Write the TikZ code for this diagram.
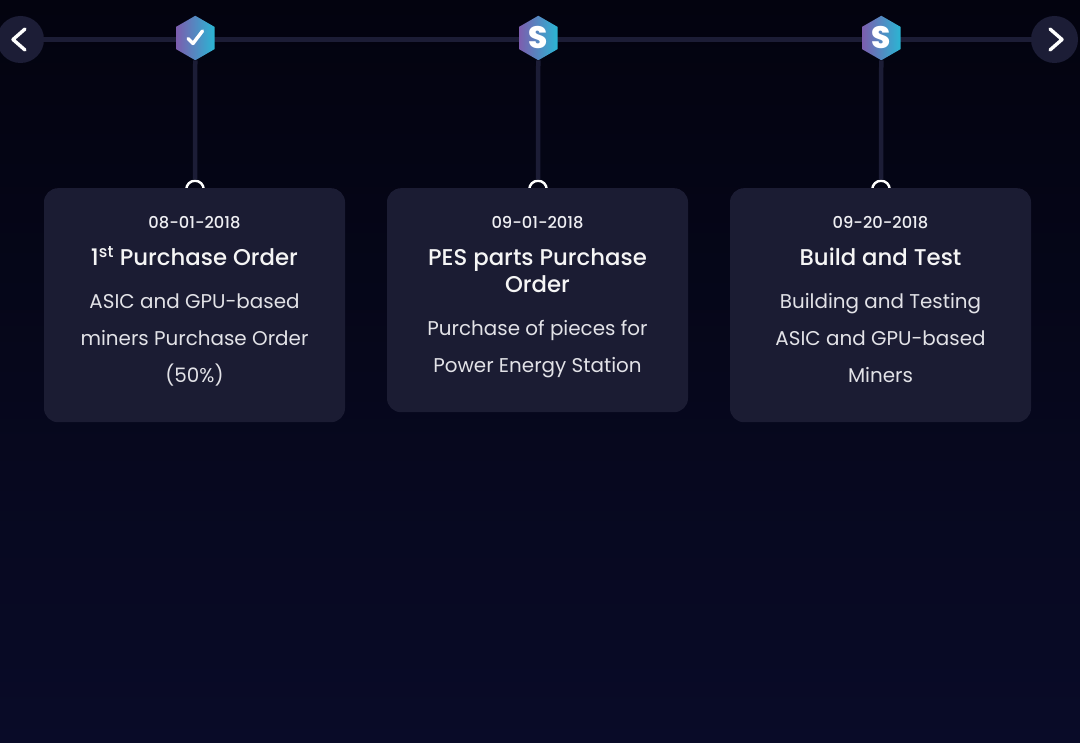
\documentclass[tikz,border=0pt]{standalone}
\usepackage{fontspec}
\setmainfont{Poppins}
\newfontfamily\poppinsmedium{Poppins Medium}
\newfontfamily\poppinsheavy{Poppins ExtraBold}
\usetikzlibrary{shapes.geometric}
\definecolor{railcolor}{HTML}{1C1D36}
\definecolor{cardcolor}{HTML}{1B1C33}
\definecolor{bgtop}{HTML}{03030F}
\definecolor{bgbottom}{HTML}{090B28}
\definecolor{hexleft}{HTML}{7C5DAE}
\definecolor{hexright}{HTML}{2AB6D4}
\definecolor{datecolor}{HTML}{EFEFF3}
\definecolor{bodycolor}{HTML}{E2E2E7}
\tikzset{
  railline/.style={draw=railcolor,line width=4.5pt},
  navbutton/.style={circle,fill=railcolor,minimum size=47pt,inner sep=0pt},
  chevronline/.style={draw=white,line width=3.4pt,line cap=round,line join=round},
  hexbadge/.style={regular polygon,regular polygon sides=6,shape border rotate=30,
    minimum size=44.5pt,inner sep=0pt,left color=hexleft,right color=hexright,
    text=white,font=\fontsize{31}{31}\selectfont\poppinsheavy},
  hookring/.style={circle,draw=white,line width=2.4pt,minimum size=17.5pt,inner sep=0pt},
  cardbox/.style={draw=none,fill=cardcolor,rounded corners=14pt,minimum width=301pt,
    inner sep=0pt,anchor=north},
  datetext/.style={text=datecolor,anchor=base,inner sep=0pt,
    font=\fontsize{16.3}{20}\selectfont\poppinsmedium},
  titletext/.style={text=white!96!black,align=center,inner sep=0pt,
    font=\fontsize{22.8}{27}\selectfont\poppinsmedium},
  bodytext/.style={text=bodycolor,align=center,inner sep=0pt,font=\fontsize{19.9}{37}\selectfont},
}
\begin{document}
\begin{tikzpicture}[x=1pt,y=-1pt]
  \useasboundingbox (0,0) rectangle (1080,743);
  \shade[top color=bgtop,bottom color=bgbottom] (0,0) rectangle (1080,743);

  % rail
  \node[navbutton] (prev) at (20.5,39.5) {};
  \node[navbutton] (next) at (1054.5,39.5) {};
  \draw[railline] (prev) -- (next);
  \node[hookring] (ringa) at (195,189.5) {};
  \node[hookring] (ringb) at (538,189.5) {};
  \node[hookring] (ringc) at (881,189.5) {};
  \node[hexbadge] (hexa) at (195.3,38) {};
  \node[hexbadge] (hexb) at (538.3,38) {\raisebox{-1pt}{S}};
  \node[hexbadge] (hexc) at (881.3,38) {\raisebox{-1pt}{S}};
  \draw[railline] (hexa) -- (ringa);
  \draw[railline] (hexb) -- (ringb);
  \draw[railline] (hexc) -- (ringc);

  % cards
  \node[cardbox,minimum height=234pt] (carda) at (194.5,188) {};
  \node[cardbox,minimum height=224pt] (cardb) at (537.5,188) {};
  \node[cardbox,minimum height=234pt] (cardc) at (880.5,188) {};

  % chevrons
  \coordinate (preva) at (25,29);
  \coordinate (prevb) at (13,39.5);
  \coordinate (prevc) at (25,50);
  \draw[chevronline] (preva) -- (prevb) -- (prevc);
  \coordinate (nexta) at (1050,29);
  \coordinate (nextb) at (1062,39.5);
  \coordinate (nextc) at (1050,50);
  \draw[chevronline] (nexta) -- (nextb) -- (nextc);
  \coordinate (ticka) at (188,38.5);
  \coordinate (tickb) at (193,43.5);
  \coordinate (tickc) at (202.5,31);
  \draw[chevronline] (ticka) -- (tickb) -- (tickc);

  % texts
  \node[datetext] (datea) at (194.5,229) {08-01-2018};
  \node[titletext] (titlea) at (194.5,256) {1\textsuperscript{st} Purchase Order};
  \node[bodytext] (bodya) at (194.5,340) {ASIC and GPU-based\\miners Purchase Order\\(50\%)};

  \node[datetext] (dateb) at (537.5,229) {09-01-2018};
  \node[titletext] (titleb) at (537.5,271) {PES parts Purchase\\Order};
  \node[bodytext] (bodyb) at (537.5,349) {Purchase of pieces for\\Power Energy Station};

  \node[datetext] (datec) at (880.5,229) {09-20-2018};
  \node[titletext] (titlec) at (880.5,257) {Build and Test};
  \node[bodytext] (bodyc) at (880.5,338) {Building and Testing\\ASIC and GPU-based\\Miners};
\end{tikzpicture}
\end{document}
